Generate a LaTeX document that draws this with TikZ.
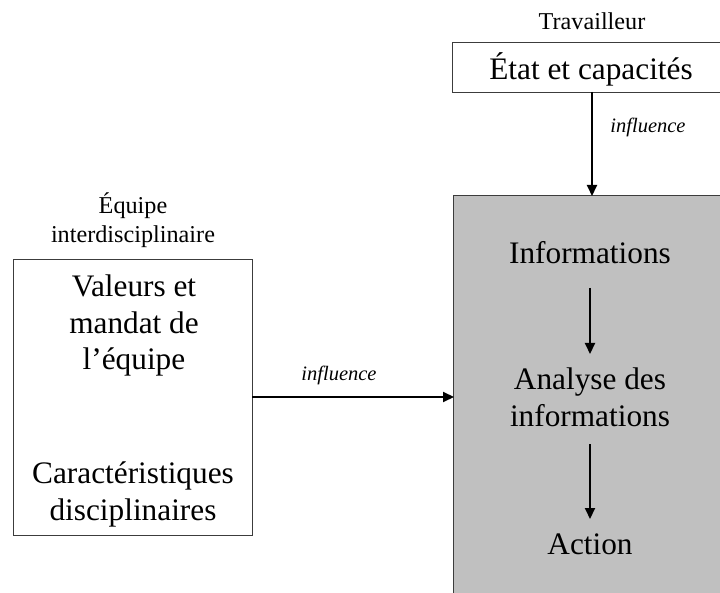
\documentclass[tikz,border=0pt]{standalone}
\usepackage{fontspec}
\setmainfont{Liberation Serif}
\usetikzlibrary{arrows.meta}
\definecolor{boxline}{HTML}{3C3C3C}
\definecolor{panel}{HTML}{C0C0C0}
\tikzset{
  boxframe/.style={draw=boxline, line width=1.3pt},
  bigtxt/.style={anchor=base, inner sep=0pt, font=\fontsize{31.3}{37}\selectfont},
  smalltxt/.style={anchor=base, inner sep=0pt, font=\fontsize{24.2}{28}\selectfont},
  lbl/.style={anchor=base, inner sep=0pt, font=\fontsize{20.5}{24}\selectfont\itshape},
  flow/.style={line width=2pt, -{Triangle[length=11pt,width=10pt]}, shorten >=-1pt}
}
\begin{document}
\begin{tikzpicture}[x=1pt,y=-1pt]
\useasboundingbox (0,0) rectangle (720,593);
\begin{scope}
\clip (0,0) rectangle (720,593);
% boxes
\node[boxframe, fill=white, anchor=north west, minimum width=290pt, minimum height=50pt, inner sep=0pt] (top) at (452,42) {};
\node[boxframe, fill=panel, anchor=north west, minimum width=290pt, minimum height=420pt, inner sep=0pt] (proc) at (453,195) {};
\end{scope}
\node[boxframe, fill=white, anchor=north west, minimum width=239pt, minimum height=276pt, inner sep=0pt] (team) at (13,259) {};

% texts
\node[smalltxt] (trav) at (592,30) {Travailleur};
\node[bigtxt] (etat) at (591,80) {État et capacités};
\node[lbl] (inf1) at (648,133) {influence};

\node[smalltxt] (eq1) at (133,214) {Équipe};
\node[smalltxt] (eq2) at (133,243) {interdisciplinaire};

\node[bigtxt] (v1) at (134,297) {Valeurs et};
\node[bigtxt] (v2) at (134,334) {mandat de};
\node[bigtxt] (v3) at (134,370) {l’équipe};
\node[bigtxt] (c1) at (133,483) {Caractéristiques};
\node[bigtxt] (c2) at (133,520) {disciplinaires};

\node[lbl] (inf2) at (339,381) {influence};

\node[bigtxt] (i1) at (590,264) {Informations};
\node[bigtxt] (a1) at (590,389) {Analyse des};
\node[bigtxt] (a2) at (590,426) {informations};
\node[bigtxt] (act) at (590,554) {Action};

% connector end points
\coordinate (topout) at (592,92);
\coordinate (procin) at (592,195);
\coordinate (teamout) at (252,397);
\coordinate (procleft) at (453,397);
\coordinate (s1) at (590,288);
\coordinate (e1) at (590,353);
\coordinate (s2) at (590,444);
\coordinate (e2) at (590,518);

\draw[flow] (topout) -- (procin);
\draw[flow] (teamout) -- (procleft);
\draw[flow] (s1) -- (e1);
\draw[flow] (s2) -- (e2);
\end{tikzpicture}
\end{document}
